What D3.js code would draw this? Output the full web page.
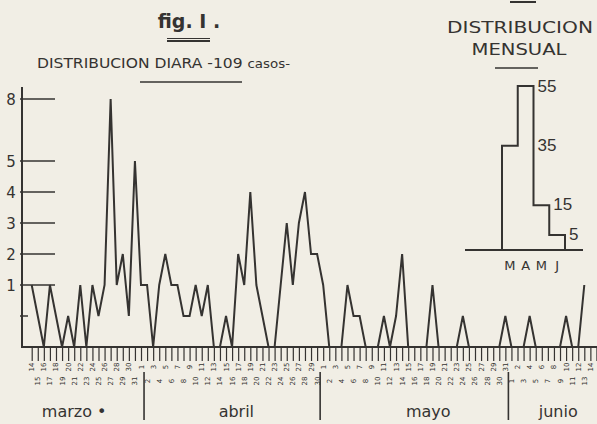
<!DOCTYPE html>
<html><head><meta charset="utf-8">
<script src="https://cdn.jsdelivr.net/npm/d3@7"></script>
<style>html,body{margin:0;padding:0;background:#f1eee5}svg{display:block}</style>
</head><body>
<svg id="c" width="597" height="424"></svg>
<script>
// ---------- data ----------
// daily cases, one value per day, from 14 March to 13 June
const dailyCases = [
  2,1,0,2,1,0,1,0,2,0,2,1,2,8,2,3,1,6,2,
  2,0,2,3,2,2,1,1,2,1,2,0,0,1,0,3,2,5,2,1,0,0,2,4,2,4,5,3,3,
  2,0,0,0,2,1,1,0,0,0,1,0,1,3,0,0,0,0,2,0,0,0,0,1,0,0,0,0,0,0,1,
  0,0,0,1,0,0,0,0,0,1,0,0,2
];
const dayLabels = [
  "14","15","16","17","18","19","20","21","22","23","24","25","26","27","28","29","30","31",
  "1","2","3","4","5","6","7","8","9","10","11","12","13","14","15","16","17","18","19","20","21","22","23","24","25","26","27","28","29","30",
  "1","2","3","4","5","6","7","8","9","10","11","12","13","14","15","16","17","18","19","20","21","22","23","24","25","26","27","28","29","30","31",
  "1","2","3","4","5","6","7","8","9","10","11","12","13","14"
];
const extraTicks = 1;                          // one more tick after the last label
const monthNames = ["marzo •","abril","mayo","junio"];
const monthLabelAt = [7,33.7,65.3,86.7];     // day index where each month name sits
const monthBreaks = [18.5,47.5,78.5];         // day index of the month separators
const yTickValues = [1,2,3,4,5,6,8];
const yTickLabels = ["","1","2","3","4","5","8"];

const months = ["M","A","M","J"];
const monthlyCases = [35,55,15,5];
const monthlyLabels = ["35","55","15","5"];

// ---------- drawing ----------
const ink = "#353331";
const svg = d3.select("#c");
const font = "'DejaVu Sans', sans-serif";

const x = d3.scaleLinear().domain([0,91]).range([31.7,584.3]);
const y = d3.scaleLinear().domain([0,8]).range([347,99]);

// title
svg.append("text").attr("x",189).attr("y",28).attr("text-anchor","middle")
  .attr("font-family",font).attr("font-size",19).attr("font-weight","bold").attr("fill",ink)
  .text("fig. I .");
svg.append("line").attr("x1",167).attr("x2",210).attr("y1",38.5).attr("y2",38.5).attr("stroke",ink).attr("stroke-width",1.2);
svg.append("line").attr("x1",167).attr("x2",210).attr("y1",41).attr("y2",41).attr("stroke",ink).attr("stroke-width",2);

const sub = svg.append("text").attr("x",37).attr("y",68)
  .attr("font-family",font).attr("font-size",14.5).attr("fill",ink);
sub.append("tspan").text("DISTRIBUCION DIARA -109 ");
sub.append("tspan").attr("font-size",12.5).text("casos-");
sub.attr("textLength",253).attr("lengthAdjust","spacingAndGlyphs");
svg.append("line").attr("x1",140).attr("x2",242).attr("y1",82).attr("y2",82).attr("stroke",ink).attr("stroke-width",1.3);

// y axis
const gy = svg.append("g").attr("transform","translate(22,0)");
gy.append("line").attr("x1",0).attr("x2",0).attr("y1",87).attr("y2",y(0)).attr("stroke",ink).attr("stroke-width",2);
yTickValues.forEach((v,i)=>{
  const lab = yTickLabels[i];
  gy.append("line").attr("x1",-2).attr("x2",lab===""?6:33).attr("y1",y(v)).attr("y2",y(v))
    .attr("stroke",ink).attr("stroke-width",1.5);
  if(lab!=="") gy.append("text").attr("x",-11).attr("y",y(v)+5.5).attr("text-anchor","middle")
    .attr("font-family",font).attr("font-size",15).attr("fill",ink).text(lab);
});

// x axis baseline + day ticks
svg.append("line").attr("x1",21).attr("x2",597).attr("y1",y(0)).attr("y2",y(0)).attr("stroke",ink).attr("stroke-width",2);
const gx = svg.append("g").attr("transform",`translate(0,${y(0)})`);
const xAxis = d3.axisBottom(x).tickValues(d3.range(0,dayLabels.length+extraTicks)).tickSize(14).tickFormat("");
gx.call(xAxis);
gx.select(".domain").remove();
gx.selectAll(".tick line").attr("stroke",ink).attr("stroke-width",1.2);
dayLabels.forEach((lab,i)=>{
  const xx = x(i), yy = (i%2===0)? 367 : 381;
  svg.append("text").attr("transform",`translate(${xx+2.5},${yy}) rotate(-90)`)
    .attr("text-anchor","middle").attr("font-family",font).attr("font-size",7).attr("fill",ink).text(lab);
});

// month separators and names
monthBreaks.forEach(b=>{
  svg.append("line").attr("x1",x(b)).attr("x2",x(b)).attr("y1",372).attr("y2",420).attr("stroke",ink).attr("stroke-width",1.6);
});
monthNames.forEach((m,i)=>{
  svg.append("text").attr("x",x(monthLabelAt[i])).attr("y",417).attr("text-anchor","middle")
    .attr("font-family",font).attr("font-size",16).attr("fill",ink).text(m);
});

// daily line
svg.append("path").datum(dailyCases)
  .attr("d", d3.line().x((d,i)=>x(i)).y(d=>y(d)))
  .attr("fill","none").attr("stroke",ink).attr("stroke-width",2).attr("stroke-linejoin","miter");

// ---------- monthly inset ----------
svg.append("line").attr("x1",510).attr("x2",536).attr("y1",2).attr("y2",2).attr("stroke",ink).attr("stroke-width",2);
svg.append("text").attr("x",520).attr("y",33).attr("text-anchor","middle").attr("font-family",font)
  .attr("font-size",15).attr("fill",ink).attr("textLength",146).attr("lengthAdjust","spacingAndGlyphs").text("DISTRIBUCION");
svg.append("text").attr("x",519).attr("y",55).attr("text-anchor","middle").attr("font-family",font)
  .attr("font-size",15).attr("fill",ink).attr("textLength",95).attr("lengthAdjust","spacingAndGlyphs").text("MENSUAL");
svg.append("line").attr("x1",495).attr("x2",538).attr("y1",68).attr("y2",68).attr("stroke",ink).attr("stroke-width",1.3);

const mx = d3.scaleBand().domain(d3.range(months.length)).range([502,565]);
const my = d3.scaleLinear().domain([0,55]).range([250,86]);
svg.append("line").attr("x1",465).attr("x2",583).attr("y1",my(0)).attr("y2",my(0)).attr("stroke",ink).attr("stroke-width",1.8);
let p = d3.path();
p.moveTo(mx(0), my(0));
monthlyCases.forEach((v,i)=>{ p.lineTo(mx(i), my(v)); p.lineTo(mx(i)+mx.bandwidth(), my(v)); });
p.lineTo(mx(months.length-1)+mx.bandwidth(), my(0));
svg.append("path").attr("d",p.toString()).attr("fill","none").attr("stroke",ink).attr("stroke-width",2);
// value labels: 35 sits beside April's right edge at March level, the others beside their own month
monthlyLabels.forEach((lab,i)=>{
  const edge = (i===0)? 1 : i;
  svg.append("text").attr("x",mx(edge)+mx.bandwidth()+4).attr("y",my(monthlyCases[i])+ (i===1?6:5))
    .attr("font-family","'Liberation Sans', sans-serif").attr("font-size",17).attr("fill",ink).text(lab);
});
months.forEach((m,i)=>{
  svg.append("text").attr("x",mx(i)+mx.bandwidth()/2).attr("y",270).attr("text-anchor","middle")
    .attr("font-family",font).attr("font-size",13).attr("fill",ink).text(m);
});
</script>
</body></html>
